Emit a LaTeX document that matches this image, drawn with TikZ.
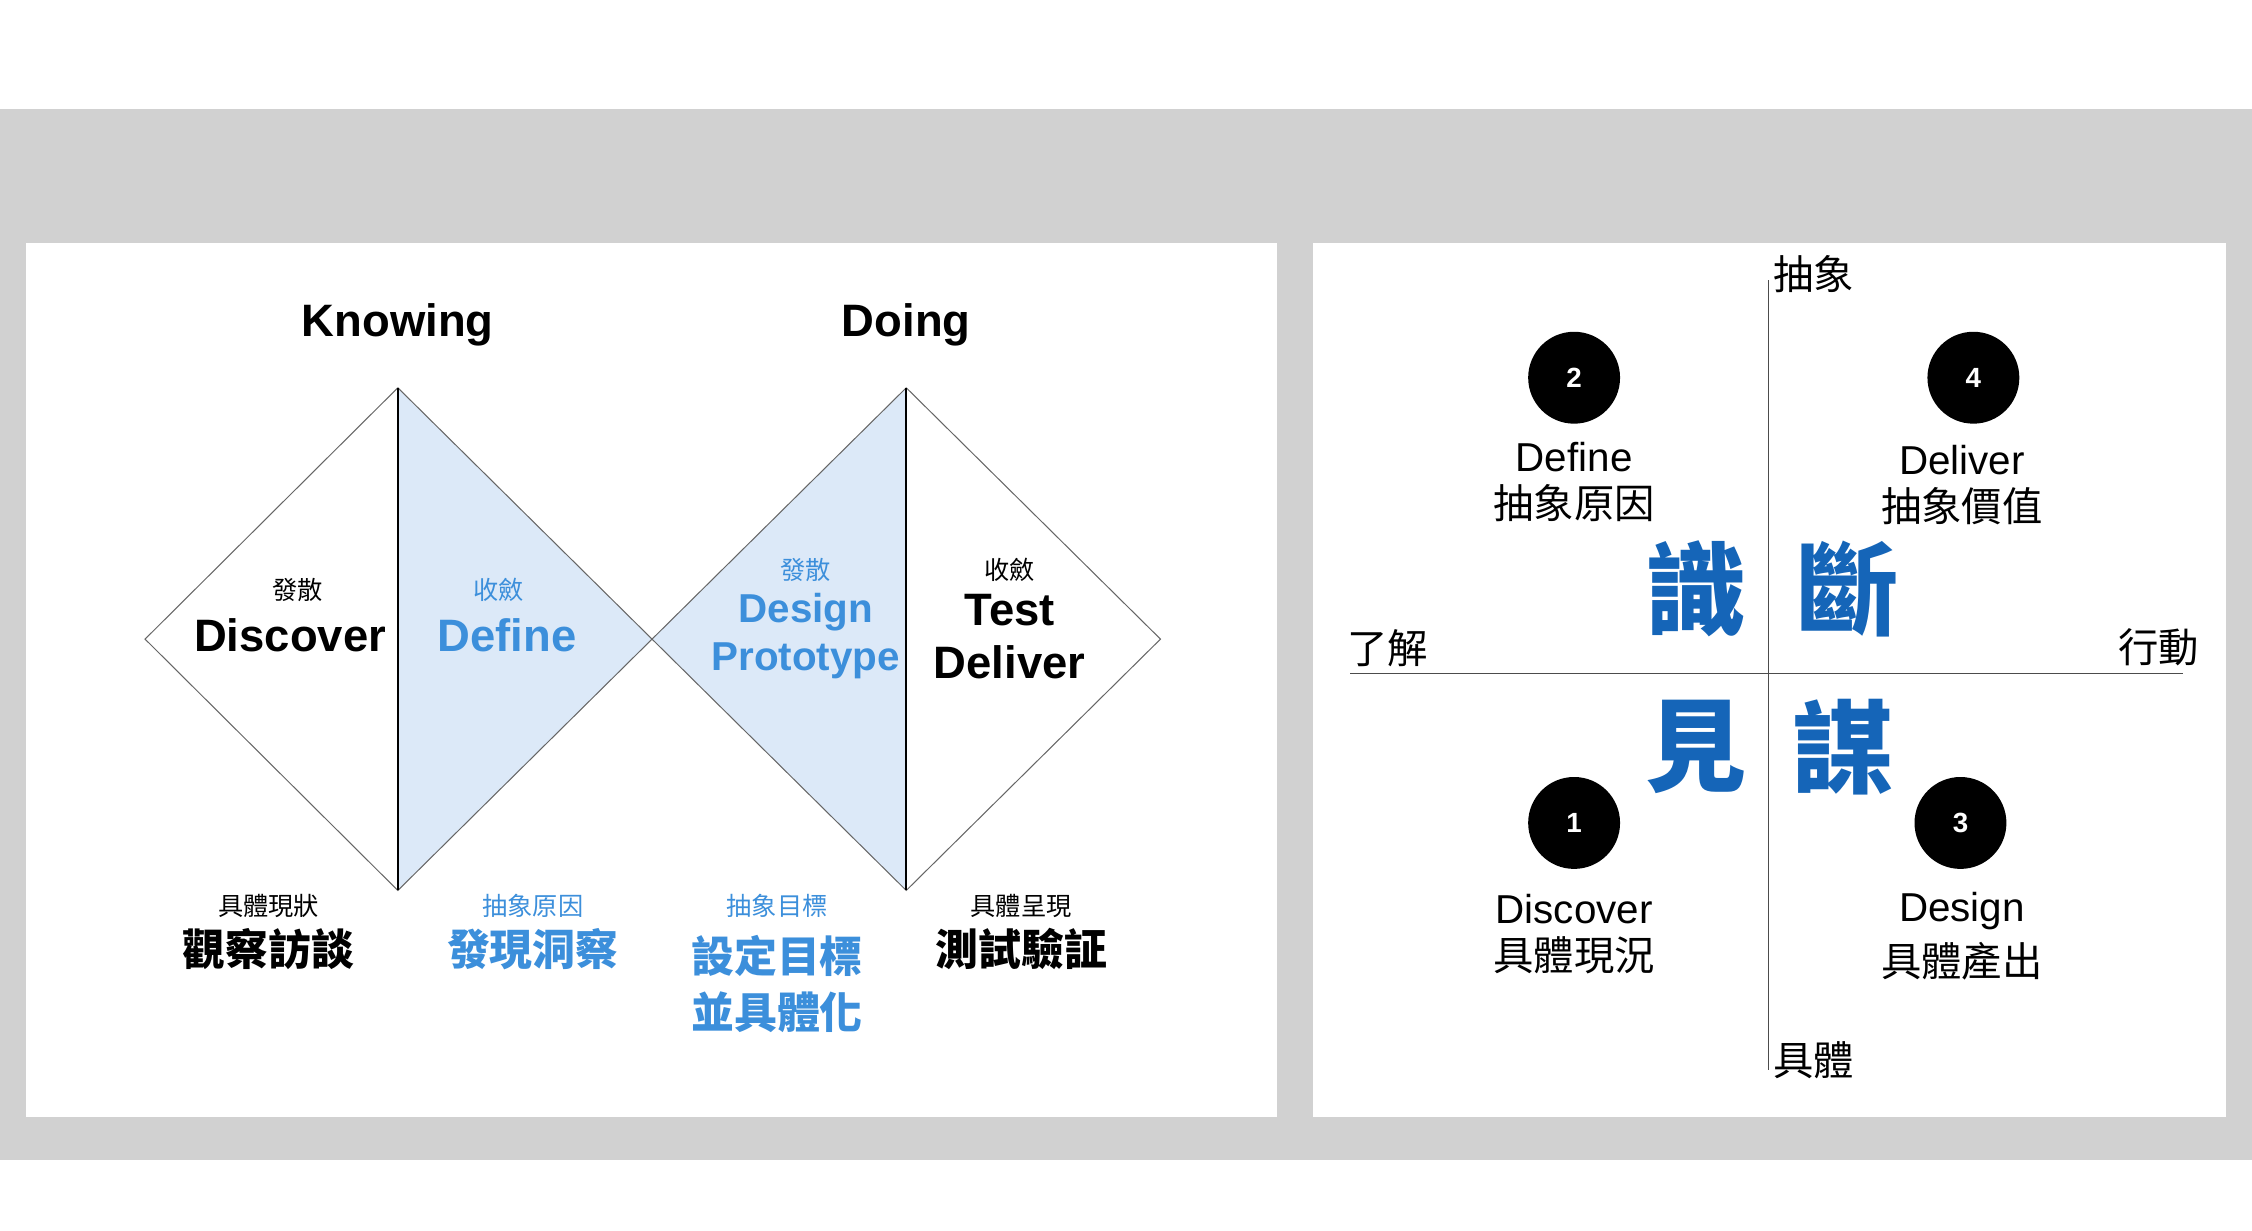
\documentclass[tikz,border=0pt]{standalone}
\usepackage{fontspec}
\setmainfont{Liberation Sans}
\newfontfamily\cjk{Noto Sans CJK TC}
\usetikzlibrary{positioning}
\definecolor{ddblue}{HTML}{3C8FDB}
\definecolor{ddfill}{HTML}{DCE9F8}
\definecolor{bigblue}{HTML}{1565B8}
\tikzstyle{title} = [font=\fontsize{18}{20}\selectfont\bfseries]
\tikzstyle{phase} = [font=\fontsize{18}{21}\selectfont\bfseries, align=center]
\tikzstyle{tiny} = [font=\cjk\fontsize{10}{12}\selectfont]
\tikzstyle{verb} = [font=\cjk\bfseries\fontsize{17}{22}\selectfont, align=center]
\tikzstyle{num} = [circle, fill=black, text=white, minimum size=1.28cm, font=\fontsize{11}{12}\selectfont\bfseries]
\tikzstyle{quad} = [font=\fontsize{16}{19}\selectfont, align=center]
\tikzstyle{qcn} = [font=\cjk\fontsize{16}{19}\selectfont]
\tikzstyle{big} = [font=\cjk\bfseries\fontsize{40}{44}\selectfont, text=bigblue]
\begin{document}
\begin{tikzpicture}[x=0.02cm, y=-0.02cm]
    \fill[white] (0,0) rectangle (1568,857);
    \fill[black!18] (0,76) rectangle (1568,808);
    \fill[white] (18,169) rectangle (889,778);
    \fill[white] (914,169) rectangle (1550,778);

    % double diamond
    \coordinate (k_top) at (277,270);
    \coordinate (k_bot) at (277,620);
    \coordinate (k_left) at (101,445);
    \coordinate (mid) at (454,445);
    \coordinate (d_top) at (631,270);
    \coordinate (d_bot) at (631,620);
    \coordinate (d_right) at (808,445);
    \fill[ddfill] (k_top) -- (mid) -- (k_bot) -- cycle;
    \fill[ddfill] (d_top) -- (mid) -- (d_bot) -- cycle;
    \draw[black!60] (k_top) -- (k_left) -- (k_bot) -- (mid) -- (k_top);
    \draw[black!60] (d_top) -- (mid) -- (d_bot) -- (d_right) -- (d_top);
    \draw[thick] (k_top) -- (k_bot);
    \draw[thick] (d_top) -- (d_bot);

    \node[title] (knowing) at (277,226) {Knowing};
    \node[title] (doing) at (631,226) {Doing};

    \node[tiny] (disc_cn) at (207,411) {發散};
    \node[phase] (disc) at (202,442) {Discover};
    \node[tiny, text=ddblue] (def_cn) at (347,411) {收斂};
    \node[phase, text=ddblue] (def) at (353,442) {Define};
    \node[tiny, text=ddblue] (des_cn) at (561,397) {發散};
    \node[phase, text=ddblue, font=\fontsize{16}{19}\selectfont\bfseries] (des) at (561,443) {Design\\Prototype};
    \node[tiny] (del_cn) at (703,397) {收斂};
    \node[phase] (del) at (703,443) {Test\\Deliver};

    \node[tiny] (disc_sub) at (187,631) {具體現狀};
    \node[verb] (disc_verb) at (187,661) {觀察訪談};
    \node[tiny, text=ddblue] (def_sub) at (371,631) {抽象原因};
    \node[verb, text=ddblue] (def_verb) at (371,661) {發現洞察};
    \node[tiny, text=ddblue] (des_sub) at (541,631) {抽象目標};
    \node[verb, text=ddblue, anchor=north] (des_verb) at (541,645) {設定目標\\並具體化};
    \node[tiny] (del_sub) at (711,631) {具體呈現};
    \node[verb] (del_verb) at (711,661) {測試驗証};

    % quadrant
    \node[qcn] (abs) at (1263,191) {抽象};
    \node[qcn] (con) at (1263,738) {具體};
    \node[qcn] (und) at (966,451) {了解};
    \node[qcn] (act) at (1503,451) {行動};
    \draw[black!70] (1231,195) -- (1231,745);
    \draw[black!70] (940,469) -- (1520,469);

    \node[num] (n2) at (1096,263) {2};
    \node[num] (n4) at (1374,263) {4};
    \node[num] (n1) at (1096,573) {1};
    \node[num] (n3) at (1365,573) {3};

    \node[quad] (q_def) at (1096,318) {Define};
    \node[qcn, below=-2pt of q_def] (q_def_cn) {抽象原因};
    \node[quad] (q_del) at (1366,320) {Deliver};
    \node[qcn, below=-2pt of q_del] (q_del_cn) {抽象價值};
    \node[quad] (q_disc) at (1096,633) {Discover};
    \node[qcn, below=-2pt of q_disc] (q_disc_cn) {具體現況};
    \node[quad] (q_des) at (1366,634) {Design};
    \node[qcn, below=-2pt of q_des] (q_des_cn) {具體產出};

    \node[big] (shi) at (1181,410) {識};
    \node[big] (duan) at (1287,410) {斷};
    \node[big] (jian) at (1181,520) {見};
    \node[big] (mou) at (1283,520) {謀};
\end{tikzpicture}
\end{document}
